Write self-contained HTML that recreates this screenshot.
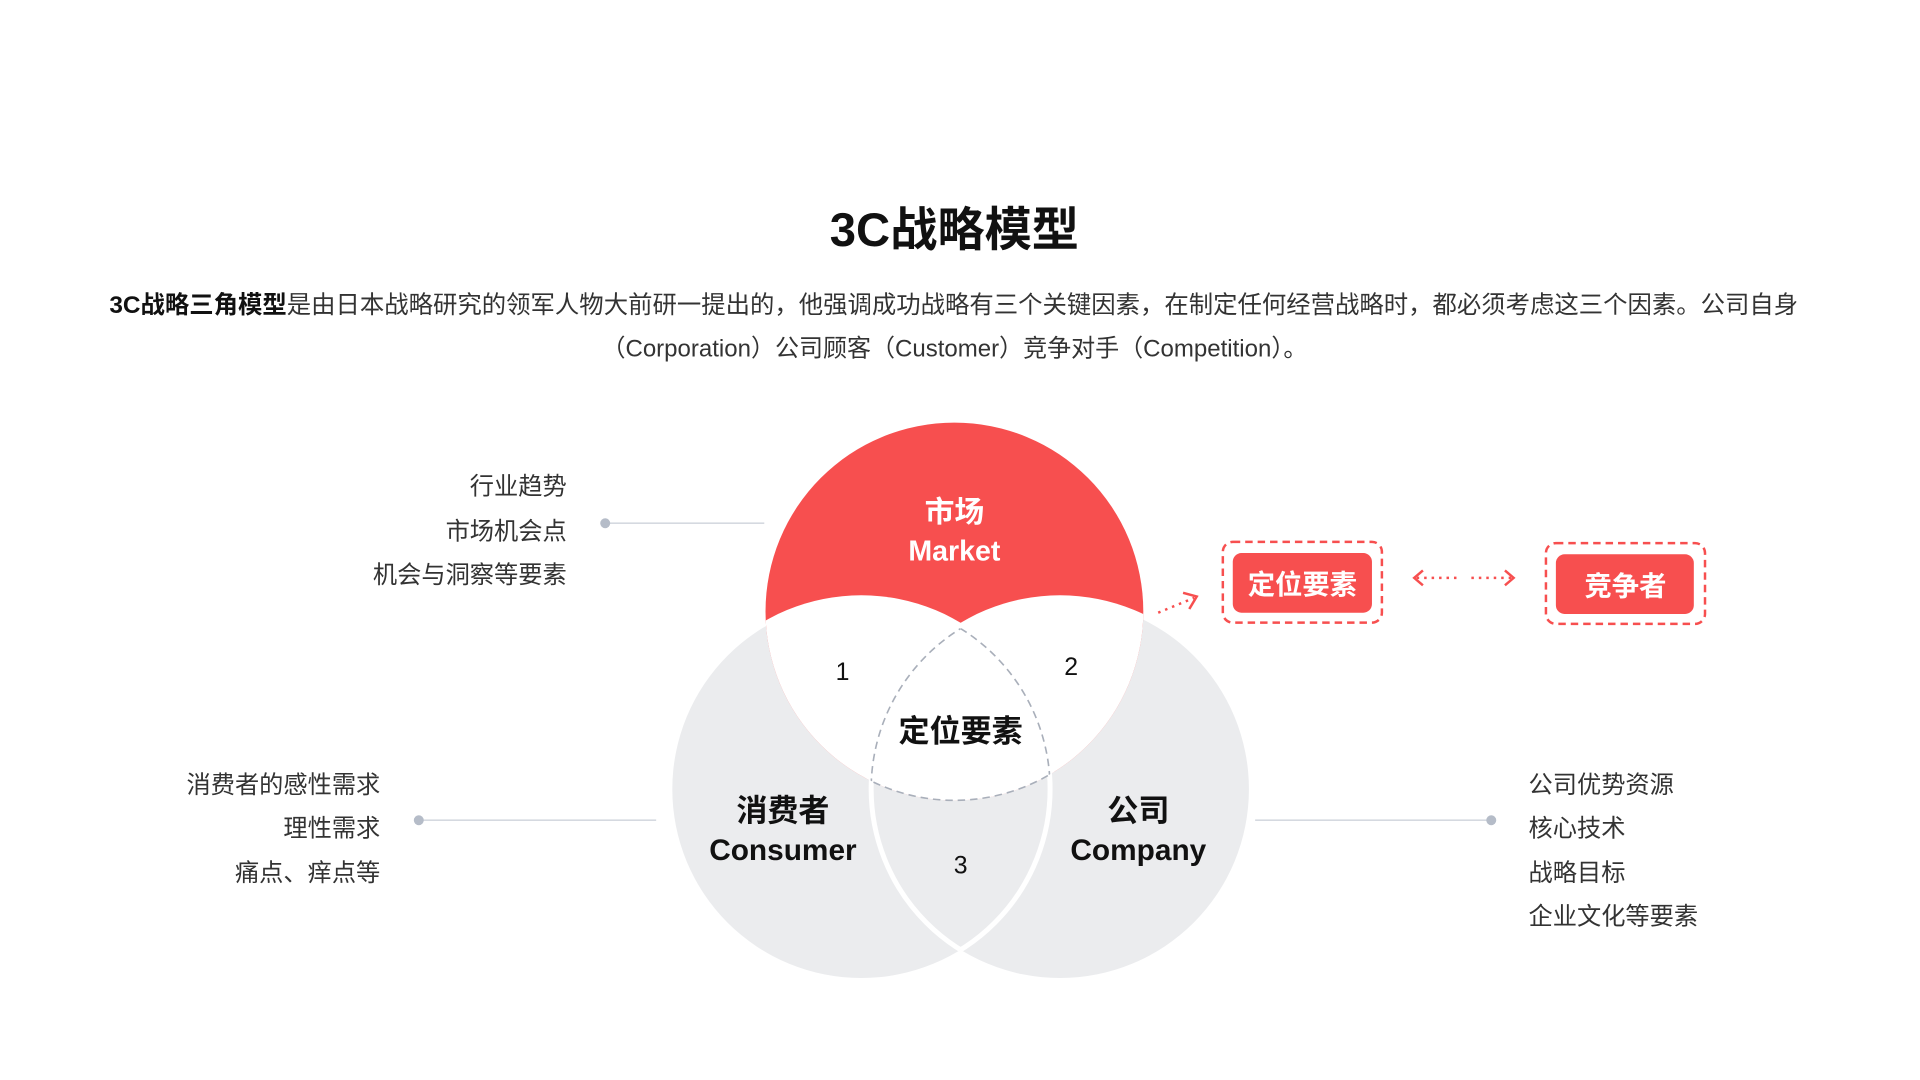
<!DOCTYPE html>
<html><head><meta charset="utf-8"><style>
html,body{margin:0;padding:0;background:#fff;}
svg{display:block;}
text{font-family:"Liberation Sans","Noto Sans CJK SC",sans-serif;}
</style></head><body>
<svg width="1920" height="1080" viewBox="0 0 1545 869" xmlns="http://www.w3.org/2000/svg">
<defs>
<clipPath id="cm"><circle cx="768" cy="492" r="152"/></clipPath>
<clipPath id="cc"><circle cx="693" cy="635" r="152"/></clipPath>
<clipPath id="cp"><circle cx="853" cy="635" r="152"/></clipPath>
</defs>
<text x="768" y="198" font-size="38" font-weight="bold" text-anchor="middle" fill="#111">3C战略模型</text>
<text x="88" y="252" font-size="19.5" fill="#333" textLength="1359" lengthAdjust="spacingAndGlyphs"><tspan font-weight="bold" fill="#111">3C战略三角模型</tspan>是由日本战略研究的领军人物大前研一提出的，他强调成功战略有三个关键因素，在制定任何经营战略时，都必须考虑这三个因素。公司自身</text>
<text x="484" y="287" font-size="19.5" fill="#333" textLength="568" lengthAdjust="spacingAndGlyphs">（Corporation）公司顾客（Customer）竞争对手（Competition）。</text>

<circle cx="693" cy="635" r="152" fill="#EBECEE"/>
<circle cx="853" cy="635" r="152" fill="#EBECEE"/>
<circle cx="768" cy="492" r="152" fill="#F74F4F"/>
<g clip-path="url(#cm)">
<circle cx="693" cy="635" r="156" fill="#fff"/>
<circle cx="853" cy="635" r="156" fill="#fff"/>
</g>
<g clip-path="url(#cp)"><circle cx="693" cy="635" r="152" fill="none" stroke="#fff" stroke-width="4"/></g>
<g clip-path="url(#cc)"><circle cx="853" cy="635" r="152" fill="none" stroke="#fff" stroke-width="4"/></g>
<g clip-path="url(#cm)"><g clip-path="url(#cp)"><circle cx="693" cy="635" r="152" fill="none" stroke="#A9AFBA" stroke-width="1.3" stroke-dasharray="6 4"/></g></g>
<g clip-path="url(#cm)"><g clip-path="url(#cc)"><circle cx="853" cy="635" r="152" fill="none" stroke="#A9AFBA" stroke-width="1.3" stroke-dasharray="6 4"/></g></g>
<g clip-path="url(#cc)"><g clip-path="url(#cp)"><circle cx="768" cy="492" r="152" fill="none" stroke="#A9AFBA" stroke-width="1.3" stroke-dasharray="6 4"/></g></g>

<text x="768" y="420" font-size="24" font-weight="bold" fill="#fff" text-anchor="middle">市场</text>
<text x="768" y="451" font-size="23" font-weight="bold" fill="#fff" text-anchor="middle">Market</text>
<text x="678" y="547" font-size="20" fill="#111" text-anchor="middle">1</text>
<text x="862" y="543" font-size="20" fill="#111" text-anchor="middle">2</text>
<text x="773" y="703" font-size="20" fill="#111" text-anchor="middle">3</text>
<text x="773" y="597" font-size="25" font-weight="bold" fill="#111" text-anchor="middle">定位要素</text>
<text x="630" y="661" font-size="25" font-weight="bold" fill="#111" text-anchor="middle">消费者</text>
<text x="630" y="692" font-size="24" font-weight="bold" fill="#111" text-anchor="middle">Consumer</text>
<text x="916" y="661" font-size="25" font-weight="bold" fill="#111" text-anchor="middle">公司</text>
<text x="916" y="692" font-size="24" font-weight="bold" fill="#111" text-anchor="middle">Company</text>

<g font-size="19.5" fill="#333">
<text x="456" y="398" text-anchor="end">行业趋势</text>
<text x="456" y="434" text-anchor="end">市场机会点</text>
<text x="456" y="469" text-anchor="end">机会与洞察等要素</text>
<text x="306" y="638" text-anchor="end">消费者的感性需求</text>
<text x="306" y="673" text-anchor="end">理性需求</text>
<text x="306" y="709" text-anchor="end">痛点、痒点等</text>
<text x="1230" y="638">公司优势资源</text>
<text x="1230" y="673">核心技术</text>
<text x="1230" y="709">战略目标</text>
<text x="1230" y="744">企业文化等要素</text>
</g>
<line x1="487" y1="421" x2="615" y2="421" stroke="#D5D9E0" stroke-width="1.3"/>
<circle cx="487" cy="421" r="4" fill="#B5BCC8"/>
<line x1="337" y1="660" x2="528" y2="660" stroke="#D5D9E0" stroke-width="1.3"/>
<circle cx="337" cy="660" r="4" fill="#B5BCC8"/>
<line x1="1010" y1="660" x2="1200" y2="660" stroke="#D5D9E0" stroke-width="1.3"/>
<circle cx="1200" cy="660" r="4" fill="#B5BCC8"/>

<g stroke="#F74F4F" fill="none" stroke-width="2">
<line x1="932" y1="493" x2="961" y2="481" stroke-dasharray="2 4"/>
<polyline points="952,477 963,480 957,490"/>
<rect x="984" y="436" width="128" height="65" rx="8" stroke-dasharray="6 4"/>
<rect x="1244" y="437" width="128" height="65" rx="8" stroke-dasharray="6 4"/>
<line x1="1140" y1="465" x2="1172" y2="465" stroke-dasharray="2 4"/>
<line x1="1184" y1="465" x2="1216" y2="465" stroke-dasharray="2 4"/>
<polyline points="1145,459 1138,465 1145,471"/>
<polyline points="1211,459 1218,465 1211,471"/>
</g>
<rect x="992" y="445" width="112" height="48" rx="7" fill="#F74F4F"/>
<rect x="1252" y="446" width="111" height="48" rx="7" fill="#F74F4F"/>
<text x="1048" y="478" font-size="22" font-weight="bold" fill="#fff" text-anchor="middle">定位要素</text>
<text x="1308" y="479" font-size="22" font-weight="bold" fill="#fff" text-anchor="middle">竞争者</text>
</svg>
</body></html>
